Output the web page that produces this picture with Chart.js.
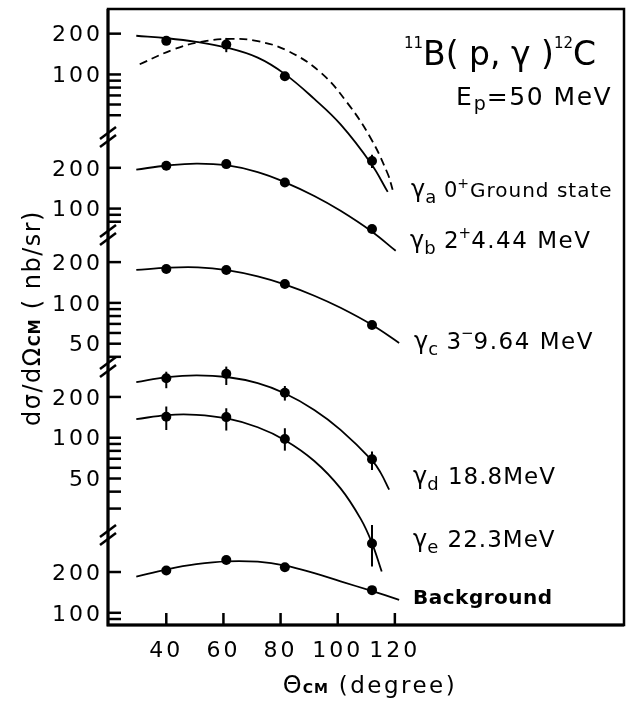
<!DOCTYPE html>
<html>
<head>
<meta charset="utf-8">
<script src="https://cdn.jsdelivr.net/npm/chart.js@4/dist/chart.umd.min.js"></script>
<style>
  html, body { margin: 0; padding: 0; background: #fff; }
</style>
</head>
<body>
<canvas id="c" width="629" height="703"></canvas>
<script>
// measured angles (degree, CM)
const thetaPts = [40, 61, 81.5, 112];

// measured cross sections (nb/sr)
const gammaA = [177, 166, 97, 23];
const gammaAErr = [null, [146, 186], null, [20.4, 25.6]];
const gammaB = [207, 213, 156, 70.7];
const gammaC = [178, 175, 138, 68.7];
const gammaD = [275, 296, 215, 69.4];
const gammaDErr = [[232, 307], [245, 335], [188, 241], [57.9, 79]];
const gammaE = [143, 142, 98, 16.6];
const gammaEErr = [[114, 170], [113, 165], [80.3, 117.5], [11.2, 22.7]];
const background = [205, 245, 217, 147];

// fitted curves
const fitATheta = [29.5, 40.3, 50.5, 61, 72, 81.4, 91.8, 101, 111.6, 117.5];
const fitA = [193, 185, 174, 158, 133, 101, 66, 42.8, 22.1, 13.6];
const dashATheta = [30.7, 42.9, 52.2, 62.7, 72, 82.5, 94.1, 103.5, 111.6, 117.5, 119.3];
const dashA = [119, 154, 174, 183, 176, 149.5, 103, 61.2, 33.7, 18.5, 13.9];
const fitBTheta = [29.5, 40.3, 50.5, 61, 72, 81.4, 91.8, 101, 111.9, 120.3];
const fitB = [194, 208, 215, 209, 186, 157, 124, 96.4, 67.8, 48.8];
const fitCTheta = [29.5, 40.6, 51.1, 61.2, 72, 81.4, 91.8, 101, 112.2, 121.5];
const fitC = [175, 182, 183, 174.5, 157, 137, 113, 92, 68.4, 50.7];
const fitDTheta = [29.5, 40.3, 50.5, 61.2, 72, 81.4, 91.8, 101, 112, 115, 118];
const fitD = [257, 280, 289, 280.6, 252.8, 212.8, 160.4, 114.3, 68.1, 55.3, 41.4];
const fitETheta = [29.5, 40.3, 50.5, 61.2, 72, 81.7, 91.8, 101, 108.1, 111.9, 115.4];
const fitE = [137, 147, 147.6, 138.7, 119.5, 95.5, 67.4, 42.3, 25.1, 16.9, 10.3];
const fitBgTheta = [29.5, 40.3, 50.5, 61.2, 72, 81.7, 91.8, 101, 111.6, 121.5];
const fitBg = [185, 209.4, 228.5, 240, 238.3, 222.8, 196, 170.6, 145.6, 124.7];

// ticks
const xTicks = [40, 60, 80, 100, 120];
const panelTicks = [
    [200, 100, 90, 80, 70, 60, 50],
    [200, 100, 90, 80],
    [200, 100, 90, 80, 70, 60, 50, 40],
    [200, 100, 90, 80, 70, 60, 50, 40, 30],
    [200, 100, 90]
];
const panelLabels = [[200, 100], [200, 100], [200, 100, 50], [200, 100, 50], [200, 100]];

// stacked log panels: where 100 nb/sr sits on the shared axis (in decades)
const panelBase = [4.063, 3.073, 2.377, 1.382, 0.090];
const yTop = 4.546;
const breakAt = [3.601, 2.878, 1.904, 0.664];

const FONT = '"DejaVu Sans"';

function toU(panel, v) {
    return panelBase[panel] + Math.log10(v / 100);
}

function pts(vals, panel) {
    return thetaPts.map((t, i) => ({ x: t, y: toU(panel, vals[i]) }));
}

function crv(th, vals, panel) {
    return th.map((t, i) => ({ x: t, y: toU(panel, vals[i]) }));
}

const yTickList = [];
panelTicks.forEach((arr, p) => {
    arr.forEach(v => {
        yTickList.push({ u: toU(p, v), label: panelLabels[p].includes(v) ? String(v) : '' });
    });
});
yTickList.sort((a, b) => a.u - b.u);

const errSets = [
    { panel: 0, vals: gammaAErr },
    { panel: 3, vals: gammaDErr },
    { panel: 3, vals: gammaEErr }
];

function dotSet(vals, panel) {
    return {
        type: 'scatter', data: pts(vals, panel),
        pointRadius: 5, pointBackgroundColor: '#000', pointBorderWidth: 0, showLine: false
    };
}

function lineSet(th, vals, panel, dash) {
    return {
        type: 'line', data: crv(th, vals, panel),
        borderColor: '#000', borderWidth: 1.8, pointRadius: 0, fill: false,
        tension: 0.4, borderDash: dash || []
    };
}

const datasets = [
    dotSet(gammaA, 0), dotSet(gammaB, 1), dotSet(gammaC, 2),
    dotSet(gammaD, 3), dotSet(gammaE, 3), dotSet(background, 4),
    lineSet(fitATheta, fitA, 0), lineSet(dashATheta, dashA, 0, [8, 5]),
    lineSet(fitBTheta, fitB, 1), lineSet(fitCTheta, fitC, 2),
    lineSet(fitDTheta, fitD, 3), lineSet(fitETheta, fitE, 3),
    lineSet(fitBgTheta, fitBg, 4)
];

function drawRich(ctx, x, y, parts, align) {
    ctx.save();
    ctx.fillStyle = '#000';
    ctx.textBaseline = 'alphabetic';
    ctx.textAlign = 'left';
    let w = 0;
    parts.forEach(p => {
        ctx.font = (p.w || 'normal') + ' ' + p.s + 'px ' + FONT;
        ctx.letterSpacing = (p.ls || 0) + 'px';
        p.width = ctx.measureText(p.t).width;
        w += p.width;
    });
    let cx = align === 'center' ? x - w / 2 : x;
    parts.forEach(p => {
        ctx.font = (p.w || 'normal') + ' ' + p.s + 'px ' + FONT;
        ctx.letterSpacing = (p.ls || 0) + 'px';
        ctx.fillText(p.t, cx, y + (p.dy || 0));
        cx += p.width;
    });
    ctx.restore();
}

const spacing = {
    id: 'spacing',
    beforeDraw(chart) { chart.ctx.letterSpacing = '3px'; },
    afterDraw(chart) { chart.ctx.letterSpacing = '0px'; }
};

const figure = {
    id: 'figure',
    afterDatasetsDraw(chart) {
        const ctx = chart.ctx;
        const xs = chart.scales.x, ys = chart.scales.y;
        ctx.save();
        ctx.strokeStyle = '#000';
        ctx.lineWidth = 2;
        errSets.forEach(set => {
            set.vals.forEach((e, i) => {
                if (!e) return;
                const px = xs.getPixelForValue(thetaPts[i]);
                ctx.beginPath();
                ctx.moveTo(px, ys.getPixelForValue(toU(set.panel, e[0])));
                ctx.lineTo(px, ys.getPixelForValue(toU(set.panel, e[1])));
                ctx.stroke();
            });
        });
        ctx.restore();
    },
    afterDraw(chart) {
        const ctx = chart.ctx;
        const a = chart.chartArea;
        const xs = chart.scales.x, ys = chart.scales.y;
        ctx.save();
        ctx.strokeStyle = '#000';
        ctx.lineCap = 'butt';

        // frame
        ctx.lineWidth = 2.5;
        ctx.strokeRect(a.left, a.top, a.right - a.left, a.bottom - a.top);
        ctx.lineWidth = 3;
        ctx.beginPath();
        ctx.moveTo(a.left, a.top);
        ctx.lineTo(a.left, a.bottom);
        ctx.lineTo(a.right, a.bottom);
        ctx.stroke();

        // inward ticks
        ctx.lineWidth = 2.5;
        yTickList.forEach(t => {
            const py = ys.getPixelForValue(t.u);
            ctx.beginPath();
            ctx.moveTo(a.left, py);
            ctx.lineTo(a.left + 13, py);
            ctx.stroke();
        });
        xTicks.forEach(v => {
            const px = xs.getPixelForValue(v);
            ctx.beginPath();
            ctx.moveTo(px, a.bottom);
            ctx.lineTo(px, a.bottom - 12);
            ctx.stroke();
        });

        // axis breaks
        ctx.lineWidth = 2.5;
        breakAt.forEach(u => {
            const py = ys.getPixelForValue(u);
            [-4, 4].forEach(d => {
                ctx.beginPath();
                ctx.moveTo(a.left - 8, py + d + 6);
                ctx.lineTo(a.left + 8, py + d - 6);
                ctx.stroke();
            });
        });
        ctx.restore();

        // title
        drawRich(ctx, 404, 65, [
            { t: '11', s: 15, dy: -17 },
            { t: 'B( p, γ )', s: 33 },
            { t: '12', s: 15, dy: -17 },
            { t: 'C', s: 33 }
        ]);
        drawRich(ctx, 456, 105, [
            { t: 'E', s: 25, ls: 2 },
            { t: 'p', s: 19, dy: 5, ls: 1 },
            { t: '=50 MeV', s: 25, ls: 1.5 }
        ]);

        // curve labels
        const gam = (sub, rest, x, y) => drawRich(ctx, x, y, [
            { t: 'γ', s: 24 }, { t: sub, s: 18, dy: 6, ls: 1 }
        ].concat(rest));
        gam('a', [{ t: ' 0', s: 21 }, { t: '+', s: 14, dy: -9, ls: 1 }, { t: 'Ground state', s: 20, ls: 1 }], 411, 197);
        gam('b', [{ t: ' 2', s: 23 }, { t: '+', s: 15, dy: -10 }, { t: '4.44 MeV', s: 23, ls: 1.5 }], 410, 248);
        gam('c', [{ t: ' 3', s: 23 }, { t: '−', s: 15, dy: -11 }, { t: '9.64 MeV', s: 23, ls: 1.5 }], 414, 349);
        gam('d', [{ t: ' 18.8MeV', s: 23, ls: 1 }], 413, 484);
        gam('e', [{ t: ' 22.3MeV', s: 23, ls: 1 }], 413, 547);
        drawRich(ctx, 413, 604, [{ t: 'Background', s: 20, w: 'bold', ls: 0.5 }]);

        // axis titles
        drawRich(ctx, 370, 693, [
            { t: 'Θ', s: 24, ls: 1 },
            { t: 'CM', s: 14, w: 'bold', ls: 1 },
            { t: ' (degree)', s: 23, ls: 2.5 }
        ], 'center');
        ctx.save();
        ctx.translate(40, 318);
        ctx.rotate(-Math.PI / 2);
        drawRich(ctx, 0, 0, [
            { t: 'dσ/dΩ', s: 24, ls: 1.5 },
            { t: 'CM', s: 15, w: 'bold', ls: 1 },
            { t: ' ( nb/sr)', s: 24, ls: 1.5 }
        ], 'center');
        ctx.restore();
    }
};

new Chart(document.getElementById('c'), {
    type: 'line',
    data: { datasets: datasets },
    options: {
        responsive: false,
        animation: false,
        devicePixelRatio: 1,
        layout: { padding: { top: 9, right: 4, left: 0, bottom: 0 } },
        plugins: { legend: { display: false }, tooltip: { enabled: false } },
        scales: {
            x: {
                type: 'linear', min: 19.6, max: 200.2,
                afterBuildTicks: s => { s.ticks = xTicks.map(v => ({ value: v })); },
                afterFit: s => { s.height = 78; s.paddingLeft = 0; s.paddingRight = 0; },
                grid: { display: false, drawTicks: false },
                border: { display: false },
                ticks: {
                    autoSkip: false, maxRotation: 0, padding: 13, color: '#000',
                    font: { family: 'DejaVu Sans', size: 22 },
                    callback: v => String(v)
                }
            },
            y: {
                type: 'linear', min: 0, max: yTop,
                afterBuildTicks: s => { s.ticks = yTickList.map(t => ({ value: t.u })); },
                afterFit: s => { s.width = 108; s.paddingTop = 0; s.paddingBottom = 0; },
                grid: { display: false, drawTicks: false },
                border: { display: false },
                ticks: {
                    autoSkip: false, padding: 5, labelOffset: 2, color: '#000',
                    font: { family: 'DejaVu Sans', size: 22 },
                    callback: (v, i) => yTickList[i].label
                }
            }
        }
    },
    plugins: [spacing, figure]
});
</script>
</body>
</html>
